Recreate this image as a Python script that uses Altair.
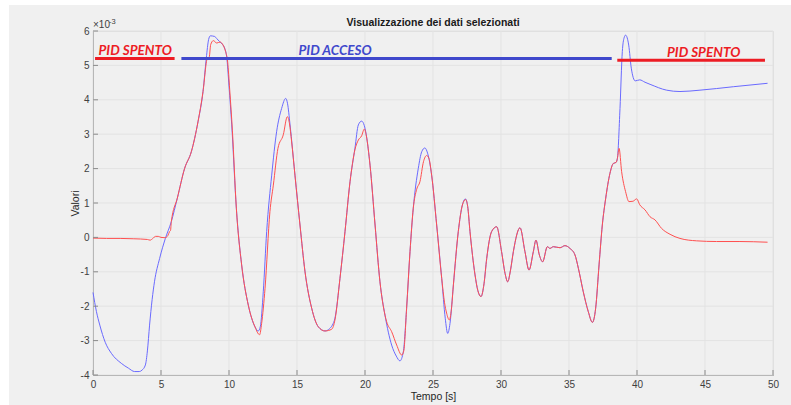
import altair as alt
import pandas as pd

# ---------------- data (values in units of 1e-3) ----------------
blue_t = [0.0, 0.25, 0.5, 0.9, 1.35, 2.08, 2.6, 3.06, 3.4, 3.6, 3.85, 4.0, 4.16, 4.35, 4.52, 4.9,
          5.32, 5.76, 6.2, 6.74, 7.23, 7.72, 8.09, 8.33, 8.5, 8.63, 8.95, 9.1, 9.31, 9.5, 9.68,
          9.83, 10.0, 10.2, 10.54, 10.93, 11.42, 11.91, 12.15, 12.3, 12.52, 12.77, 13.14, 13.5,
          13.87, 14.17, 14.3, 14.49, 14.85, 15.22, 15.59, 16.08, 16.57, 17.06, 17.4, 17.6, 17.79,
          18.16, 18.53, 18.9, 19.26, 19.51, 19.75, 19.95, 20.37, 20.74, 21.1, 21.47, 21.96, 22.3,
          22.57, 22.82, 23.06, 23.31, 23.55, 23.92, 24.17, 24.4, 24.6, 24.9, 25.27, 25.64, 25.9,
          26.08, 26.25, 26.5, 26.86, 27.16, 27.38, 27.55, 27.72, 28.09, 28.3, 28.53, 28.75, 28.95,
          29.31, 29.68, 30.04, 30.3, 30.49, 30.7, 30.91, 31.4, 31.76, 32.06, 32.38, 32.57, 32.82,
          33.06, 33.41, 33.6, 33.85, 34.34, 34.7, 35.07, 35.44, 35.69, 36.05, 36.42, 36.72, 36.96,
          37.21, 37.45, 37.7, 38.01, 38.26, 38.46, 38.56, 38.75, 38.92, 39.05, 39.16, 39.28, 39.39,
          39.58, 39.87, 40.2, 40.59, 40.96, 42.18, 43.16, 44.63, 47.08, 49.6]
blue_v = [-1.6, -2.15, -2.55, -3.05, -3.37, -3.66, -3.8, -3.9, -3.9, -3.86, -3.71, -3.3, -2.55,
          -1.8, -1.29, -0.61, -0.03, 0.46, 1.14, 2.01, 2.49, 3.36, 4.24, 5.21, 5.75, 5.86, 5.84,
          5.78, 5.69, 5.62, 5.5, 5.25, 4.4, 3.27, 0.85, -0.8, -1.97, -2.6, -2.72, -2.6, -1.58,
          0.17, 1.81, 3.07, 3.75, 4.04, 3.9, 3.27, 1.81, 0.36, -1.0, -2.06, -2.6, -2.72, -2.65,
          -2.55, -2.35, -1.19, 0.17, 1.62, 2.59, 3.27, 3.38, 3.25, 2.1, 0.36, -1.29, -2.26, -3.13,
          -3.45, -3.59, -3.32, -2.06, -0.41, 0.85, 2.01, 2.49, 2.6, 2.45, 1.81, 0.36, -1.19, -2.35,
          -2.79, -2.5, -1.38, 0.17, 0.94, 1.12, 0.9, 0.17, -1.09, -1.55, -1.72, -1.35, -0.61,
          0.17, 0.31, -0.41, -1.05, -1.29, -0.95, -0.41, 0.28, -0.41, -0.95, -0.41, -0.08, -0.51,
          -0.71, -0.27, -0.32, -0.27, -0.3, -0.24, -0.32, -0.51, -0.9, -1.58, -2.16, -2.47, -2.06,
          -0.8, 0.36, 1.14, 1.86, 2.15, 2.18, 2.3, 3.75, 5.4, 5.8, 5.88, 5.8, 5.59,
          4.92, 4.55, 4.58, 4.51, 4.45, 4.28, 4.24, 4.28, 4.38, 4.48]

red_t = [0.0, 1.0, 2.0, 3.0, 4.0, 4.2, 4.4, 4.6, 4.8, 5.0, 5.3, 5.5, 5.63, 5.7, 5.76, 6.2, 6.74,
         7.23, 7.72, 8.09, 8.4, 8.55, 8.65, 8.85, 9.1, 9.35, 9.55, 9.75, 9.9, 10.05, 10.25, 10.54,
         10.93, 11.42, 11.91, 12.25, 12.4, 12.65, 13.01, 13.26, 13.6, 13.99, 14.29, 14.45, 14.6,
         14.85, 15.22, 15.59, 16.08, 16.57, 17.06, 17.55, 17.79, 18.16, 18.53, 18.9, 19.26, 19.51,
         19.75, 19.95, 20.1, 20.37, 20.74, 21.1, 21.47, 21.59, 21.96, 22.33, 22.7, 22.85, 23.06,
         23.31, 23.55, 23.8, 24.04, 24.3, 24.53, 24.7, 24.9, 25.27, 25.64, 25.85, 26.0, 26.2,
         26.35, 26.5, 26.86, 27.16, 27.4, 27.55, 27.72, 28.09, 28.3, 28.53, 28.75, 28.95, 29.31,
         29.68, 30.04, 30.3, 30.49, 30.7, 30.91, 31.4, 31.76, 32.06, 32.38, 32.57, 32.82, 33.06,
         33.41, 33.6, 33.85, 34.34, 34.7, 35.07, 35.44, 35.69, 36.05, 36.42, 36.72, 36.96, 37.21,
         37.45, 37.7, 38.01, 38.26, 38.46, 38.56, 38.68, 38.87, 39.16, 39.41, 39.7, 39.98, 40.2,
         40.59, 40.96, 41.32, 41.81, 42.43, 43.16, 44.38, 45.85, 47.57, 49.6]
red_v = [-0.02, -0.03, -0.03, -0.04, -0.06, -0.08, -0.03, 0.03, 0.03, 0.0, -0.01, 0.05, 0.17,
         0.2, 0.46, 1.14, 2.01, 2.49, 3.36, 4.24, 5.2, 5.25, 5.6, 5.72, 5.65, 5.68, 5.6, 5.4, 5.1,
         4.3, 3.1, 0.85, -0.8, -1.97, -2.6, -2.83, -2.5, -1.48, 0.75, 1.52, 2.59, 2.98, 3.51, 3.3,
         2.8, 1.81, 0.36, -1.0, -2.06, -2.6, -2.72, -2.67, -2.4, -1.19, 0.17, 1.62, 2.55, 2.83,
         2.95, 3.15, 2.95, 2.1, 0.36, -1.29, -2.26, -2.45, -2.74, -3.13, -3.42, -3.3, -2.06,
         -0.41, 0.85, 1.4, 1.62, 2.2, 2.38, 2.3, 1.81, 0.36, -1.19, -1.9, -2.2, -2.4,
         -2.1, -1.38, 0.17, 0.94, 1.1, 0.9, 0.17, -1.09, -1.55, -1.72, -1.35, -0.61, 0.17,
         0.31, -0.41, -1.05, -1.29, -0.95, -0.41, 0.28, -0.41, -0.95, -0.41, -0.08, -0.51, -0.71,
         -0.27, -0.32, -0.27, -0.3, -0.24, -0.32, -0.51, -0.9, -1.58, -2.16, -2.47, -2.06, -0.8,
         0.36, 1.14, 1.86, 2.15, 2.18, 2.3, 2.59, 1.91, 1.33, 1.04, 1.05, 1.12, 0.95,
         0.8, 0.6, 0.51, 0.26, 0.09, -0.03, -0.1, -0.12, -0.12, -0.14]

x_ticks = [0, 5, 10, 15, 20, 25, 30, 35, 40, 45, 50]
y_ticks = [-4, -3, -2, -1, 0, 1, 2, 3, 4, 5, 6]

# annotations (hand-drawn segments and labels, in data units)
ann_start = [0.15, 6.5, 38.55]
ann_end = [6.0, 38.14, 49.41]
ann_level = [5.2, 5.2, 5.15]
ann_color = ["#ed1c24", "#3f48cc", "#ed1c24"]
ann_text = ["PID SPENTO", "PID ACCESO", "PID SPENTO"]
ann_text_t = [3.1, 17.8, 44.9]
ann_text_v = [5.3, 5.3, 5.24]

title_text = "Visualizzazione dei dati selezionati"

# ---------------- chart ----------------
W, H = 680, 344
xs = alt.Scale(domain=[0, 50], nice=False, zero=False)
ys = alt.Scale(domain=[-4, 6], nice=False, zero=False)

axis_common = dict(
    domainColor="#8a8a8a", domainWidth=1, ticks=False, grid=False,
    labelFont="Liberation Sans", labelFontSize=10, labelColor="#404040",
    titleFont="Liberation Sans", titleFontSize=10.5, titleFontWeight="normal",
    titleColor="#262626", labelExpr="datum.value + ''", labelFlush=False,
    labelOverlap=False,
)
ax_x = alt.Axis(values=x_ticks, title="Tempo [s]", labelPadding=4, titlePadding=2, **axis_common)
ax_y = alt.Axis(values=y_ticks, title="Valori", labelPadding=4, titlePadding=0, **axis_common)


def X(field="t"):
    return alt.X(field + ":Q", scale=xs, axis=ax_x)


def Y(field="v"):
    return alt.Y(field + ":Q", scale=ys, axis=ax_y)


one = pd.DataFrame({"a": [0]})
blue_df = pd.DataFrame({"t": blue_t, "v": blue_v})
red_df = pd.DataFrame({"t": red_t, "v": red_v})
xt_df = pd.DataFrame({"t": x_ticks})
yt_df = pd.DataFrame({"v": y_ticks})
seg_df = pd.DataFrame({"t": ann_start, "t2": ann_end, "v": ann_level, "c": ann_color})
txt_df = pd.DataFrame({"t": ann_text_t, "v": ann_text_v, "label": ann_text, "c": ann_color})

# white margin strips of the figure window (left and top)
strip_left = alt.Chart(one).mark_rect(color="white").encode(
    x=alt.value(-93), x2=alt.value(-84), y=alt.value(-31), y2=alt.value(374))
strip_top = alt.Chart(one).mark_rect(color="white").encode(
    x=alt.value(-93), x2=alt.value(698), y=alt.value(-31), y2=alt.value(-26))

grid_x = alt.Chart(xt_df).mark_rule(color="#e3e3e3", strokeWidth=1).encode(
    x=X(), y=alt.value(0), y2=alt.value(H))
grid_y = alt.Chart(yt_df).mark_rule(color="#e3e3e3", strokeWidth=1).encode(
    y=Y(), x=alt.value(0), x2=alt.value(W))
tick_x = alt.Chart(xt_df).mark_rule(color="#8a8a8a", strokeWidth=1).encode(
    x=X(), y=alt.value(H), y2=alt.value(H - 5))
tick_y = alt.Chart(yt_df).mark_rule(color="#8a8a8a", strokeWidth=1).encode(
    y=Y(), x=alt.value(0), x2=alt.value(5))

blue_line = alt.Chart(blue_df).mark_line(color="#6a6aff", strokeWidth=1.0,
                                         interpolate="monotone").encode(x=X(), y=Y())
red_line = alt.Chart(red_df).mark_line(color="#ff5050", strokeWidth=1.0,
                                       interpolate="monotone").encode(x=X(), y=Y())

segs = alt.Chart(seg_df).mark_rule(strokeWidth=3).encode(
    x=X(), x2="t2:Q", y=Y(), color=alt.Color("c:N", scale=None))
labels = alt.Chart(txt_df).mark_text(font="Lato", fontSize=13.5, fontWeight="bold",
                                     fontStyle="italic", baseline="alphabetic", align="center").encode(
    x=X(), y=Y(), text="label:N", color=alt.Color("c:N", scale=None))

exp_df = pd.DataFrame({"t": [0], "v": [6]})
exp_main = alt.Chart(exp_df).mark_text(text="×10", font="Liberation Sans", fontSize=10,
                                       color="#404040", align="left", baseline="alphabetic",
                                       dx=0, dy=-3).encode(x=X(), y=Y())
exp_sup = alt.Chart(exp_df).mark_text(text="-3", font="Liberation Sans", fontSize=7.5,
                                      color="#404040", align="left", baseline="alphabetic",
                                      dx=16, dy=-7).encode(x=X(), y=Y())

title_df = pd.DataFrame({"t": [25], "v": [6], "label": [title_text]})
title_mark = alt.Chart(title_df).mark_text(font="Liberation Sans", fontSize=10.5, fontWeight="bold",
                                           color="#1a1a1a", align="center", baseline="alphabetic",
                                           dy=-5).encode(x=X(), y=Y(), text="label:N")

chart = alt.layer(
    strip_left, strip_top, grid_x, grid_y, blue_line, red_line, tick_x, tick_y, segs, labels,
    exp_main, exp_sup, title_mark,
).properties(
    width=W, height=H,
    autosize=alt.AutoSizeParams(type="none"),
    padding={"left": 93, "top": 31, "right": 18, "bottom": 30},
).configure_view(strokeWidth=0, fill="white").configure(background="#f0f0f0")

chart.save("out.html", embed_options={"renderer": "svg", "actions": False})
